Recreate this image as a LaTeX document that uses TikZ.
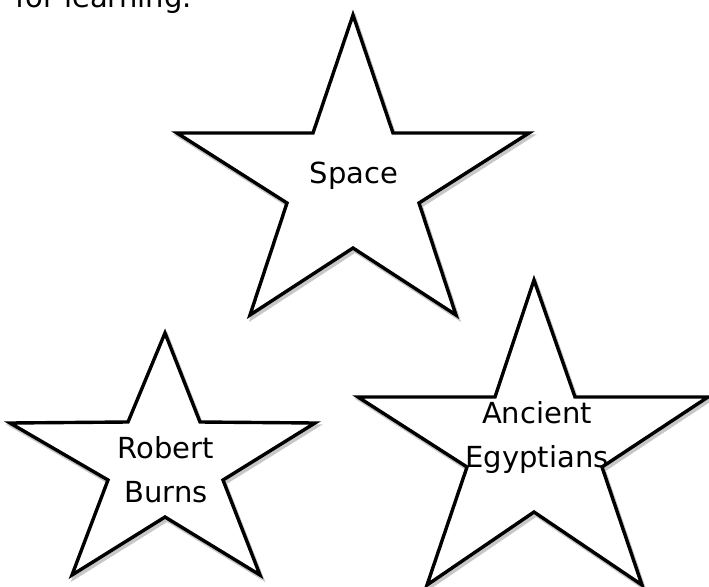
\documentclass[tikz,border=0pt]{standalone}
\usepackage{fontspec}
\setmainfont{DejaVu Sans}
\begin{document}
\begin{tikzpicture}[x=1pt,y=-1pt,
  starshape/.style={draw=black,fill=white,line width=3.4pt,line join=miter,miter limit=20},
  shadowshape/.style={fill=black!22,draw=black!22,line width=3.4pt,line join=miter,miter limit=20},
  txt/.style={font=\fontsize{29}{44}\selectfont,align=center,inner sep=0pt,anchor=base}]
\useasboundingbox (0,0) rectangle (709,586);
\clip (0,0) rectangle (709,586);
% Space star
\coordinate (s1) at (353,15); \coordinate (s2) at (393,133); \coordinate (s3) at (529,133);
\coordinate (s4) at (419,203); \coordinate (s5) at (456,315); \coordinate (s6) at (353,248);
\coordinate (s7) at (250,315); \coordinate (s8) at (287,203); \coordinate (s9) at (177,133);
\coordinate (s10) at (313,133);
% Robert Burns star
\coordinate (r1) at (165,333); \coordinate (r2) at (200,422); \coordinate (r3) at (315,423);
\coordinate (r4) at (223,480); \coordinate (r5) at (260,575); \coordinate (r6) at (165,517);
\coordinate (r7) at (72,575); \coordinate (r8) at (108,480); \coordinate (r9) at (10,423);
\coordinate (r10) at (128,422);
% Ancient Egyptians star
\coordinate (e1) at (534,280); \coordinate (e2) at (575,397); \coordinate (e3) at (708,397);
\coordinate (e4) at (602,467); \coordinate (e5) at (642,585); \coordinate (e6) at (534,512);
\coordinate (e7) at (427,585); \coordinate (e8) at (467,467); \coordinate (e9) at (358,397);
\coordinate (e10) at (495,397);
\foreach \p in {s,r,e}{
  \draw[shadowshape] ([shift={(2,3)}]\p1)
    \foreach \i in {2,...,10}{ -- ([shift={(2,3)}]\p\i) } -- cycle;
}
\foreach \p in {s,r,e}{
  \draw[starshape] (\p1) \foreach \i in {2,...,10}{ -- (\p\i) } -- cycle;
}
\node[txt,anchor=base west] (intro) at (15,8) {for learning.};
\node[txt] (space) at (354,183) {Space};
\node[txt] (burns) at (166,502) {Robert\\Burns};
\node[txt] (egypt) at (537,467) {Ancient\\Egyptians};
\end{tikzpicture}
\end{document}
